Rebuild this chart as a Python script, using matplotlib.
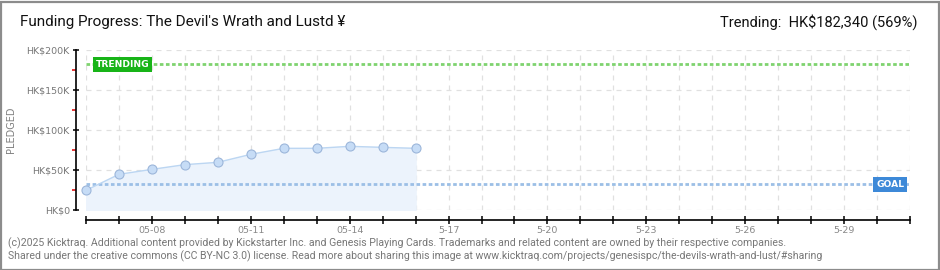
import matplotlib
matplotlib.use("Agg")
import matplotlib.pyplot as plt
from matplotlib.patches import Rectangle

plt.rcParams['font.family'] = ['Roboto', 'DejaVu Sans']

# ---- data ----
days = [6, 7, 8, 9, 10, 11, 12, 13, 14, 15, 16]
pledged = [24600, 44600, 50800, 56700, 59600, 69600, 77100, 77100, 79600, 78300, 77100]
goal = 32045
trending = 182340
x_start, x_end = 6, 31
all_days = list(range(6, 32))
label_days = [8, 11, 14, 17, 20, 23, 26, 29]
label_texts = ["05-08", "05-11", "05-14", "5-17", "5-20", "5-23", "5-26", "5-29"]
y_major = [0, 50000, 100000, 150000, 200000]
y_major_labels = [r"HK\$0", r"HK\$50K", r"HK\$100K", r"HK\$150K", r"HK\$200K"]
y_minor = [25000, 75000, 125000, 175000]

title = "Funding Progress: The Devil's Wrath and Lustd ¥"
right_title = r"Trending:  HK\$182,340 (569%)"
footer1 = ("(c)2025 Kicktraq. Additional content provided by Kickstarter Inc. and Genesis Playing Cards. "
           "Trademarks and related content are owned by their respective companies.")
footer2 = ("Shared under the creative commons (CC BY-NC 3.0) license. Read more about sharing this image at "
           "www.kicktraq.com/projects/genesispc/the-devils-wrath-and-lust/#sharing")

W, H = 940, 270
fig = plt.figure(figsize=(W / 100, H / 100), dpi=100)
fig.patch.set_facecolor('white')

# border
fig.add_artist(Rectangle((0.5 / W, 0.5 / H), 1 - 2 / W, 1 - 2 / H, transform=fig.transFigure,
                         fill=False, edgecolor='#8c8c8c', linewidth=1.6))

ax = fig.add_axes([86 / W, 60 / H, 824 / W, 160 / H])
ax.set_xlim(x_start, x_end)
ax.set_ylim(0, 200000)

# grid
for d in all_days:
    ax.axvline(d, color='#e0e0e0', linestyle=(0, (4, 4)), linewidth=0.9, zorder=0)
for v in y_major:
    ax.axhline(v, color='#e0e0e0', linestyle=(0, (4, 4)), linewidth=0.9, zorder=0)

# data
ax.fill_between(days, 0, pledged, color='#ecf3fc', zorder=1)
ax.plot(days, pledged, color='#bcd6f2', linewidth=1.0, zorder=3)
ax.plot(days, pledged, linestyle='none', marker='o', markersize=6.5, clip_on=False,
        markerfacecolor='#c6dcf6', markeredgecolor='#9cb6da', markeredgewidth=0.8, zorder=4)

# goal / trending lines
ax.axhline(trending, color='#7fd36f', linestyle=(0, (1.3, 0.9)), linewidth=2.0, zorder=2)
ax.axhline(goal, color='#9cbfe6', linestyle=(0, (1.3, 0.9)), linewidth=2.0, zorder=2)

# labels on lines
ax.text(6.3, trending, "TRENDING", color='white', fontsize=6.6, fontweight='bold',
        family=['DejaVu Sans'], va='center', ha='left', zorder=6,
        bbox=dict(boxstyle='square,pad=0.32', facecolor='#18b418', edgecolor='none'))
ax.text(30.83, goal, "GOAL", color='white', fontsize=6.6, fontweight='bold',
        family=['DejaVu Sans'], va='center', ha='right', zorder=6,
        bbox=dict(boxstyle='square,pad=0.32', facecolor='#3d89d8', edgecolor='none'))

# spines
for s in ['top', 'right']:
    ax.spines[s].set_visible(False)
ax.spines['left'].set_position(('outward', 7.2))
ax.spines['bottom'].set_position(('outward', 7.2))
ax.spines['left'].set_bounds(0, 200000)
ax.spines['bottom'].set_bounds(x_start, x_end)
ax.spines['left'].set_linewidth(1.2)
ax.spines['bottom'].set_linewidth(1.2)

ax.set_yticks(y_major)
ax.set_yticklabels(y_major_labels, family=['DejaVu Sans'])
ax.set_yticks(y_minor, minor=True)
ax.tick_params(axis='y', which='major', direction='inout', length=5, width=1.1,
               color='black', labelsize=6.8, labelcolor='#777777', pad=2)
ax.tick_params(axis='y', which='minor', direction='out', length=3, width=1.1, color='#e00000')

ax.set_xticks(all_days)
ax.set_xticklabels([label_texts[label_days.index(d)] if d in label_days else "" for d in all_days],
                   family=['DejaVu Sans'])
ax.tick_params(axis='x', which='major', direction='inout', length=6, width=1.1,
               color='black', labelsize=6.8, labelcolor='#888888', pad=1)

fig.text(11 / W, 1 - 130 / H, "PLEDGED", rotation=90, ha='center', va='center',
         fontsize=7, color='#808080', family=['DejaVu Sans'])

# titles
fig.text(20 / W, 1 - 22 / H, title, ha='left', va='center', fontsize=11, color='#111111')
fig.text(918 / W, 1 - 22 / H, right_title, ha='right', va='center', fontsize=10.5, color='#111111')

# footer
fig.text(8 / W, 1 - 243 / H, footer1, ha='left', va='center', fontsize=7.6, color='#777777')
fig.text(8 / W, 1 - 256 / H, footer2, ha='left', va='center', fontsize=7.6, color='#777777')

fig.savefig("out.png", dpi=100, facecolor='white')
